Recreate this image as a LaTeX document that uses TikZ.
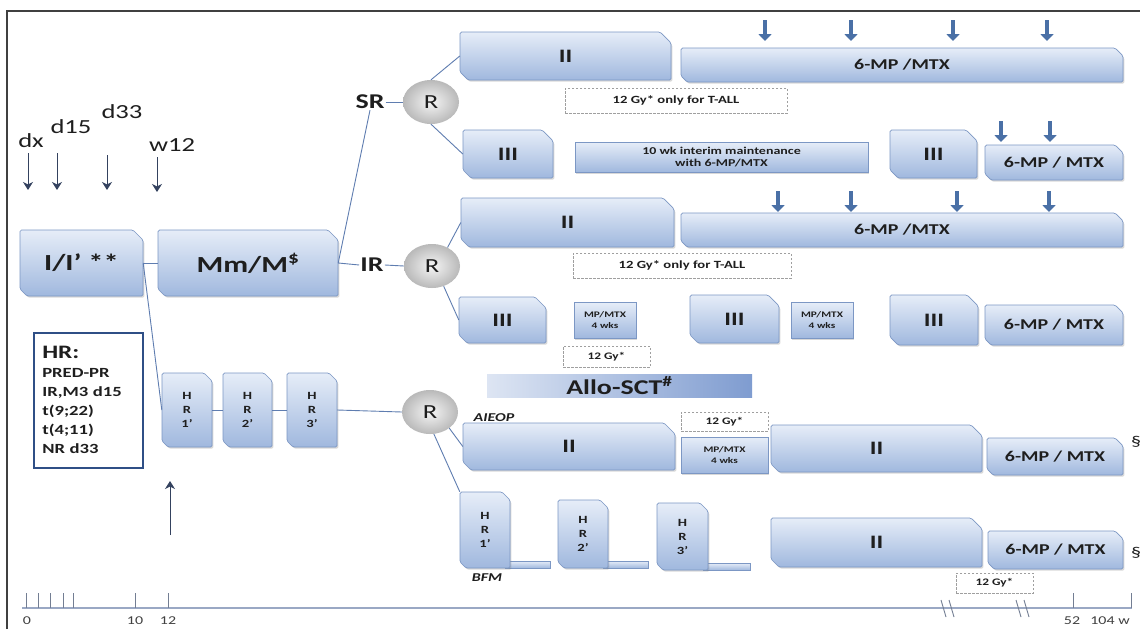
\documentclass[tikz,border=0pt]{standalone}
\usepackage{fontspec}
\setmainfont{Carlito}[FakeStretch=1.33]
\usetikzlibrary{arrows.meta,shadows,shapes.geometric}

\definecolor{boxtop}{HTML}{E6EDF8}
\definecolor{boxbot}{HTML}{A0B8DE}
\definecolor{boxline}{HTML}{7C97C4}
\definecolor{connc}{HTML}{5F7DB0}
\definecolor{arrowc}{HTML}{4A70A6}
\definecolor{arrowdark}{HTML}{34425F}
\definecolor{txt}{HTML}{1E1E1E}
\definecolor{hrline}{HTML}{2F4F86}
\definecolor{alloL}{HTML}{DDE5F3}
\definecolor{alloR}{HTML}{7F9CD0}
\definecolor{axisc}{HTML}{9AA8C4}

% treatment block: snipped top-right and bottom-left corners
\newcommand{\cTR}{10}
\newcommand{\cBL}{7}
\newcommand{\phase}[7][]{%
  \path[phaseshape] (#3,#4) -- ({#5-\cTR},#4) -- (#5,{#4+\cTR}) -- (#5,#6)
     -- ({#3+\cBL},#6) -- (#3,{#6-\cBL}) -- cycle;
  \node[phasetext,#1,minimum width={(#5-#3)*1pt},minimum height={(#6-#4)*1pt}]
     (#2) at ({(#3+#5)/2},{(#4+#6)/2}) {#7};}
% plain rectangular block
\newcommand{\plainblock}[7][]{%
  \node[plainshape,#1,minimum width={(#5-#3)*1pt},minimum height={(#6-#4)*1pt}]
     (#2) at ({(#3+#5)/2},{(#4+#6)/2}) {#7};}
% dashed radiotherapy box
\newcommand{\gybox}[7][]{%
  \node[dashbox,#1,minimum width={(#6-#4)*1pt},minimum height={(#7-#5)*1pt}]
     (#2) at ({(#4+#6)/2},{(#5+#7)/2}) {#3};}

\begin{document}
\begin{tikzpicture}[x=1pt,y=-1pt,
  phaseshape/.style={draw=boxline,line width=0.7pt,top color=boxtop,bottom color=boxbot,
    rounded corners=1.5pt,drop shadow={shadow xshift=1.3pt,shadow yshift=-1.7pt,opacity=0.3}},
  plainshape/.style={draw=boxline,line width=0.7pt,top color=boxtop,bottom color=boxbot,
    inner sep=0pt,align=center,text=txt,font=\bfseries\fontsize{10.5}{11.5}\selectfont,
    drop shadow={shadow xshift=1.3pt,shadow yshift=-1.7pt,opacity=0.3}},
  phasetext/.style={inner sep=0pt,align=center,text=txt,font=\bfseries\fontsize{19}{19}\selectfont},
  bigtxt/.style={font=\bfseries\fontsize{23}{23}\selectfont},
  mptxt/.style={font=\bfseries\fontsize{15}{15}\selectfont},
  smalltxt/.style={font=\bfseries\fontsize{11}{14}\selectfont},
  mmtxt/.style={font=\bfseries\fontsize{8.5}{11}\selectfont},
  conn/.style={draw=connc,line width=0.9pt},
  rball/.style={ellipse,minimum width=56pt,minimum height=44pt,inner sep=0pt,
    inner color=gray!8,outer color=gray!55,text=txt,font=\fontsize{20}{20}\selectfont},
  grouptxt/.style={text=txt,font=\bfseries\fontsize{21}{21}\selectfont,inner sep=1pt},
  dashbox/.style={draw=gray!75,dash pattern=on 2.5pt off 1.5pt,line width=0.6pt,fill=white,
    inner sep=0pt,text=txt,font=\bfseries\fontsize{11}{11}\selectfont},
  blockarrow/.style={draw=arrowc,line width=4.5pt,-{Triangle[length=7pt,width=13pt]}},
  thinarrow/.style={draw=arrowdark,line width=1pt,-{Stealth[length=8pt,width=10pt,inset=2.5pt]}},
  daylbl/.style={text=txt,font=\fontsize{20}{20}\selectfont,inner sep=0pt},
  protlbl/.style={text=txt,font=\bfseries\itshape\fontsize{12}{12}\selectfont,inner sep=0pt},
  axislbl/.style={text=txt!85,font=\fontsize{12}{12}\selectfont,inner sep=0pt},
  tailbar/.style={draw=boxline,line width=0.6pt,top color=boxtop,bottom color=boxbot}]

\useasboundingbox (0,0) rectangle (1140,629);
\fill[white] (0,0) rectangle (1140,629);
\draw[line width=1.3pt,draw=black!75] (7,629) -- (7,11) -- (1140,11);

% ---------- time points ----------
\node[daylbl] (ldx) at (31,141) {dx};
\node[daylbl] (ld15) at (71,127) {d15};
\node[daylbl] (ld33) at (122,112) {d33};
\node[daylbl] (lw12) at (172,145) {w12};
\coordinate (t1a) at (28,153);  \coordinate (t1b) at (28,190);
\coordinate (t2a) at (57,153);  \coordinate (t2b) at (57,190);
\coordinate (t3a) at (107,155); \coordinate (t3b) at (107,190);
\coordinate (t4a) at (157,157); \coordinate (t4b) at (157,192);
\draw[thinarrow] (t1a) -- (t1b);
\draw[thinarrow] (t2a) -- (t2b);
\draw[thinarrow] (t3a) -- (t3b);
\draw[thinarrow] (t4a) -- (t4b);

% ---------- group labels and randomisations ----------
\node[grouptxt] (sr) at (370,102) {SR};
\node[grouptxt] (ir) at (372,265) {IR};
\node[rball] (rsr) at (431,102) {R};
\node[rball] (rir) at (432,266) {R};
\node[rball] (rhr) at (430,412) {R};

% ---------- induction / consolidation / HR blocks ----------
\phase[bigtxt]{ind}{20}{230}{143}{296}{I/I’ **}
\phase[bigtxt]{mm}{158}{230}{338}{296}{Mm/M\textsuperscript{\$}}

\node[draw=hrline,line width=1.6pt,fill=white,anchor=north west,
  minimum width=109pt,minimum height=135pt,text width=92pt,inner sep=0pt,align=left,
  text=txt,font=\bfseries\fontsize{14}{19}\selectfont,
  drop shadow={shadow xshift=1.2pt,shadow yshift=-1.6pt,opacity=0.25}]
  (hrinfo) at (33,332)
  {{\fontsize{19}{22}\selectfont HR:}\\PRED-PR\\IR,M3 d15\\t(9;22)\\t(4;11)\\NR d33};

\renewcommand{\cTR}{8}\renewcommand{\cBL}{6}
\phase[smalltxt]{hra}{162}{373}{212}{447}{H\\R\\1’}
\phase[smalltxt]{hrb}{223}{373}{272}{447}{H\\R\\2’}
\phase[smalltxt]{hrc}{287}{373}{337}{447}{H\\R\\3’}
\coordinate (upa) at (170,535); \coordinate (upb) at (170,481);
\draw[thinarrow] (upa) -- (upb);

% ---------- SR arm ----------
\renewcommand{\cTR}{11}\renewcommand{\cBL}{8}
\phase{iiA}{460}{32}{671}{80}{II}
\renewcommand{\cTR}{8}\renewcommand{\cBL}{6}
\phase[mptxt]{mpA}{681}{48}{1123}{82}{6-MP /MTX}
\gybox{gyA}{12 Gy* only for T-ALL}{565}{88}{787}{113}
\renewcommand{\cTR}{11}\renewcommand{\cBL}{8}
\phase{iiiA}{463}{130}{553}{178}{III}
\plainblock{imA}{575}{142}{868}{172}{10 wk interim maintenance\\with 6-MP/MTX}
\phase{iiiB}{890}{130}{977}{178}{III}
\renewcommand{\cTR}{8}\renewcommand{\cBL}{6}
\phase[mptxt]{mpB}{985}{145}{1123}{180}{6-MP / MTX}

% ---------- IR arm ----------
\renewcommand{\cTR}{11}\renewcommand{\cBL}{8}
\phase{iiB}{461}{198}{674}{247}{II}
\renewcommand{\cTR}{8}\renewcommand{\cBL}{6}
\phase[mptxt]{mpC}{681}{213}{1123}{247}{6-MP /MTX}
\gybox{gyB}{12 Gy* only for T-ALL}{573}{253}{791}{278}
\renewcommand{\cTR}{11}\renewcommand{\cBL}{8}
\phase{iiiC}{459}{297}{546}{343}{III}
\plainblock[mmtxt]{mmA}{574}{302}{636}{338}{MP/MTX\\4 wks}
\gybox[font=\bfseries\fontsize{10}{10}\selectfont]{gyC}{12 Gy*}{563}{346}{650}{367}
\phase{iiiD}{690}{295}{779}{343}{III}
\plainblock[mmtxt]{mmB}{791}{302}{853}{338}{MP/MTX\\4 wks}
\phase{iiiE}{890}{295}{978}{345}{III}
\renewcommand{\cTR}{8}\renewcommand{\cBL}{6}
\phase[mptxt]{mpD}{985}{305}{1123}{345}{6-MP / MTX}

\node[minimum width=265pt,minimum height=23pt,inner sep=0pt,left color=alloL,right color=alloR,
  text=txt,font=\bfseries\fontsize{21}{21}\selectfont] (allo) at (619.5,385.5)
  {Allo-SCT\textsuperscript{\#}};

% ---------- HR arm: AIEOP ----------
\node[protlbl] (aieop) at (494,418) {AIEOP};
\renewcommand{\cTR}{11}\renewcommand{\cBL}{8}
\phase{iiE}{463}{423}{675}{470}{II}
\gybox[font=\bfseries\fontsize{10}{10}\selectfont]{gyD}{12 Gy*}{681}{412}{768}{431}
\plainblock[mmtxt]{mmC}{681}{437}{768}{473}{MP/MTX\\4 wks}
\phase{iiF}{771}{425}{982}{472}{II}
\renewcommand{\cTR}{8}\renewcommand{\cBL}{6}
\phase[mptxt]{mpE}{987}{438}{1123}{475}{6-MP / MTX}
\node[text=txt,font=\fontsize{15}{15}\selectfont,anchor=west,inner sep=0pt] (secA) at (1131,442) {§};

% ---------- HR arm: BFM ----------
\node[protlbl] (bfm) at (487,578) {BFM};
\path[tailbar] (505,561) rectangle (550,568);
\path[tailbar] (603,561) rectangle (648,568);
\path[tailbar] (703,563) rectangle (750,570);
\phase[smalltxt]{bfa}{460}{492}{510}{568}{H\\R\\1’}
\phase[smalltxt]{bfb}{558}{500}{608}{568}{H\\R\\2’}
\phase[smalltxt]{bfc}{657}{503}{708}{570}{H\\R\\3’}
\renewcommand{\cTR}{11}\renewcommand{\cBL}{8}
\phase{iiG}{771}{518}{982}{567}{II}
\renewcommand{\cTR}{8}\renewcommand{\cBL}{6}
\phase[mptxt]{mpF}{988}{531}{1123}{569}{6-MP / MTX}
\node[text=txt,font=\fontsize{15}{15}\selectfont,anchor=west,inner sep=0pt] (secB) at (1131,553) {§};
\gybox[font=\bfseries\fontsize{10}{10}\selectfont]{gyE}{12 Gy*}{956}{573}{1033}{593}

% ---------- connectors ----------
\draw[conn] (ind.east) -- (mm.west);
\draw[conn] (ind.east) -- (hra.west);
\draw[conn] (mm.east) -- (sr.south);
\draw[conn] (mm.east) -- (ir.west);
\draw[conn] (sr.east) -- (rsr.west);
\draw[conn] (ir.east) -- (rir.west);
\draw[conn] (rsr.north) -- (iiA.west);
\draw[conn] (rsr.south) -- (iiiA.west);
\draw[conn] (rir.50) -- (iiB.west);
\draw[conn] (rir.-60) -- (iiiC.west);
\draw[conn] (hra.east) -- (hrb.west);
\draw[conn] (hrb.east) -- (hrc.west);
\draw[conn] (hrc.east) -- (rhr.west);
\draw[conn] (rhr.-40) -- (iiE.west);
\draw[conn] (rhr.-80) -- (bfa.north west);

% ---------- maintenance pulses ----------
\foreach \px/\nm in {765/pa,851/pb,953/pc,1047/pd}{
  \coordinate (\nm1) at (\px,20); \coordinate (\nm2) at (\px,41);
  \draw[blockarrow] (\nm1) -- (\nm2);}
\foreach \px/\nm in {1001/qa,1050/qb}{
  \coordinate (\nm1) at (\px,121); \coordinate (\nm2) at (\px,142);
  \draw[blockarrow] (\nm1) -- (\nm2);}
\foreach \px/\nm in {778/ra,851/rb,957/rc,1049/rd}{
  \coordinate (\nm1) at (\px,191); \coordinate (\nm2) at (\px,212);
  \draw[blockarrow] (\nm1) -- (\nm2);}

% ---------- time axis ----------
\draw[draw=axisc,line width=1.8pt] (22,608) -- (1132,608);
\foreach \tx in {26,38,50,63,73,135,168,1073,1131}
  \draw[draw=axisc!75!black,line width=0.8pt] (\tx,593) -- (\tx,608);
\foreach \bx in {948,1023}{
  \draw[draw=axisc!75!black,line width=0.9pt] ({\bx-7},600) -- ({\bx-2},617);
  \draw[draw=axisc!75!black,line width=0.9pt] ({\bx+1},600) -- ({\bx+6},617);}
\node[axislbl] (x0) at (27,621) {0};
\node[axislbl] (x10) at (135,621) {10};
\node[axislbl] (x12) at (168,621) {12};
\node[axislbl] (x52) at (1072,621) {52};
\node[axislbl] (x104) at (1110,621) {104 w};
\end{tikzpicture}
\end{document}
